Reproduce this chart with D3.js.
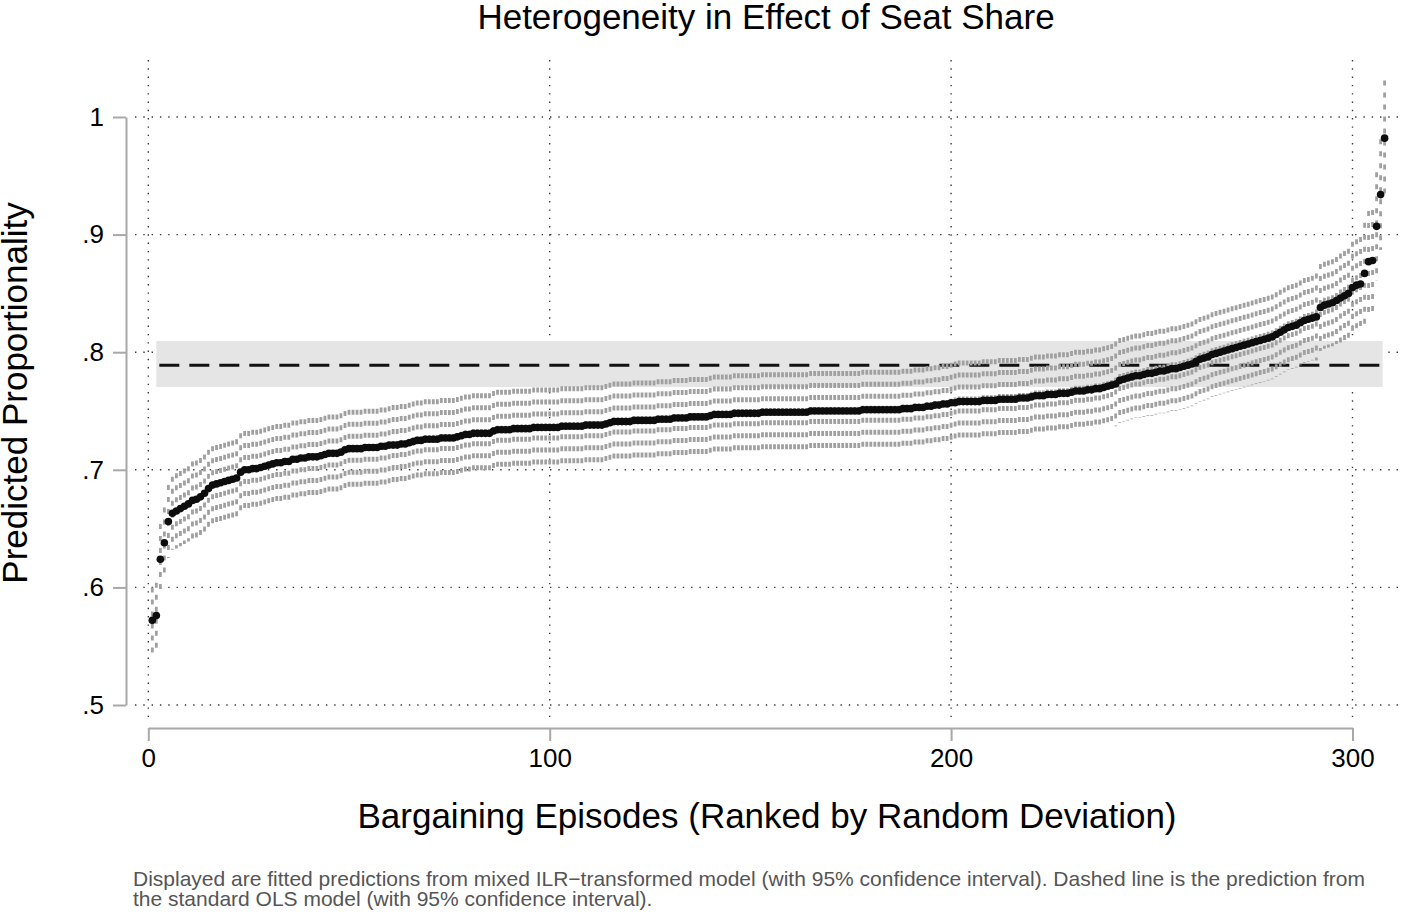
<!DOCTYPE html>
<html><head><meta charset="utf-8">
<script src="https://cdn.jsdelivr.net/npm/d3@7"></script>
<style>
body{margin:0;background:#fff}
svg{display:block}
text{font-family:"Liberation Sans",Arial,Helvetica,sans-serif}
</style>
</head><body>
<svg id="chart" width="1401" height="914"></svg>
<script>
// ---- data ----
const estimates = [
0.572,0.576,0.624,0.638,0.656,0.663,0.665,0.667,0.669,0.671,
0.674,0.675,0.677,0.680,0.684,0.687,0.688,0.689,0.690,0.691,
0.692,0.693,0.698,0.700,0.700,0.701,0.701,0.702,0.703,0.704,
0.705,0.706,0.706,0.707,0.707,0.709,0.709,0.710,0.710,0.711,
0.711,0.711,0.712,0.713,0.714,0.714,0.714,0.715,0.717,0.718,
0.718,0.718,0.718,0.719,0.719,0.719,0.719,0.720,0.720,0.721,
0.721,0.721,0.722,0.722,0.723,0.724,0.725,0.725,0.726,0.726,
0.726,0.726,0.727,0.727,0.727,0.727,0.728,0.729,0.730,0.730,
0.731,0.731,0.731,0.731,0.731,0.733,0.734,0.734,0.734,0.734,
0.735,0.735,0.735,0.735,0.735,0.736,0.736,0.736,0.736,0.736,
0.736,0.736,0.737,0.737,0.737,0.737,0.737,0.737,0.738,0.738,
0.738,0.738,0.738,0.739,0.740,0.741,0.741,0.741,0.741,0.741,
0.742,0.742,0.742,0.742,0.742,0.742,0.743,0.743,0.743,0.743,
0.744,0.744,0.744,0.744,0.745,0.745,0.745,0.745,0.745,0.746,
0.747,0.747,0.747,0.747,0.747,0.748,0.748,0.748,0.748,0.748,
0.748,0.748,0.749,0.749,0.749,0.749,0.749,0.749,0.749,0.749,
0.749,0.749,0.749,0.749,0.750,0.750,0.750,0.750,0.750,0.750,
0.750,0.750,0.750,0.750,0.750,0.750,0.750,0.751,0.751,0.751,
0.751,0.751,0.751,0.751,0.751,0.751,0.751,0.752,0.752,0.752,
0.753,0.753,0.753,0.754,0.754,0.755,0.755,0.756,0.756,0.757,
0.757,0.758,0.758,0.758,0.758,0.758,0.758,0.759,0.759,0.759,
0.759,0.760,0.760,0.760,0.760,0.760,0.761,0.761,0.761,0.762,
0.763,0.763,0.763,0.764,0.764,0.764,0.765,0.765,0.765,0.766,
0.767,0.767,0.767,0.768,0.768,0.769,0.769,0.770,0.771,0.772,
0.773,0.776,0.777,0.778,0.779,0.780,0.780,0.781,0.782,0.782,
0.783,0.784,0.784,0.785,0.786,0.786,0.787,0.788,0.789,0.790,
0.792,0.794,0.795,0.796,0.798,0.799,0.800,0.801,0.802,0.803,
0.804,0.805,0.806,0.807,0.808,0.809,0.810,0.811,0.812,0.813,
0.815,0.817,0.819,0.821,0.822,0.823,0.825,0.827,0.828,0.829,
0.830,0.838,0.840,0.841,0.842,0.844,0.846,0.848,0.850,0.855,
0.857,0.858,0.867,0.877,0.878,0.907,0.934,0.982
];
// half-width of each 95% confidence interval
const halfWidths = [
0.028,0.028,0.030,0.030,0.031,0.031,0.032,0.032,0.032,0.032,
0.033,0.033,0.033,0.033,0.033,0.033,0.033,0.033,0.033,0.033,
0.033,0.033,0.033,0.033,0.033,0.033,0.033,0.033,0.033,0.033,
0.033,0.033,0.033,0.033,0.033,0.033,0.033,0.033,0.033,0.033,
0.033,0.033,0.033,0.033,0.033,0.033,0.033,0.033,0.033,0.033,
0.033,0.033,0.033,0.033,0.033,0.033,0.033,0.033,0.033,0.033,
0.034,0.034,0.034,0.034,0.034,0.034,0.034,0.034,0.034,0.034,
0.034,0.034,0.034,0.034,0.034,0.034,0.034,0.034,0.034,0.034,
0.034,0.034,0.034,0.034,0.034,0.034,0.034,0.034,0.034,0.034,
0.034,0.034,0.034,0.034,0.034,0.034,0.034,0.034,0.034,0.034,
0.034,0.034,0.034,0.034,0.034,0.034,0.034,0.034,0.034,0.034,
0.034,0.034,0.034,0.034,0.034,0.034,0.034,0.034,0.034,0.034,
0.034,0.034,0.034,0.034,0.034,0.034,0.034,0.034,0.034,0.034,
0.034,0.034,0.034,0.034,0.034,0.034,0.034,0.034,0.034,0.034,
0.034,0.034,0.034,0.034,0.034,0.034,0.034,0.034,0.034,0.034,
0.034,0.034,0.034,0.034,0.034,0.034,0.034,0.034,0.034,0.034,
0.034,0.034,0.034,0.034,0.034,0.034,0.034,0.034,0.034,0.034,
0.034,0.034,0.034,0.034,0.034,0.034,0.034,0.034,0.034,0.034,
0.034,0.034,0.034,0.034,0.034,0.034,0.034,0.034,0.034,0.034,
0.034,0.034,0.034,0.034,0.034,0.034,0.034,0.034,0.034,0.034,
0.035,0.035,0.035,0.035,0.035,0.035,0.035,0.035,0.035,0.035,
0.035,0.035,0.035,0.035,0.035,0.035,0.035,0.035,0.035,0.035,
0.035,0.035,0.035,0.035,0.035,0.035,0.035,0.035,0.035,0.035,
0.035,0.035,0.035,0.035,0.035,0.035,0.035,0.035,0.035,0.035,
0.036,0.036,0.036,0.036,0.036,0.036,0.036,0.036,0.036,0.036,
0.036,0.036,0.036,0.036,0.036,0.036,0.036,0.036,0.036,0.036,
0.036,0.036,0.036,0.036,0.036,0.036,0.036,0.036,0.036,0.036,
0.036,0.036,0.036,0.036,0.036,0.036,0.036,0.036,0.036,0.036,
0.036,0.036,0.036,0.036,0.036,0.036,0.036,0.036,0.036,0.036,
0.037,0.037,0.037,0.037,0.037,0.037,0.038,0.038,0.038,0.039,
0.039,0.040,0.043,0.043,0.043,0.046,0.047,0.049
];
const olsEstimate = 0.789;
const olsLower = 0.7704;
const olsUpper = 0.8095;
const olsRankSpan = [2, 307.5];

const xTicks = [0, 100, 200, 300];
const xTickLabels = ["0", "100", "200", "300"];
const yTicks = [0.5, 0.6, 0.7, 0.8, 0.9, 1.0];
const yTickLabels = [".5", ".6", ".7", ".8", ".9", "1"];

const titleText = "Heterogeneity in Effect of Seat Share";
const xTitleText = "Bargaining Episodes (Ranked by Random Deviation)";
const yTitleText = "Predicted Proportionality";
const noteLines = [
  "Displayed are fitted predictions from mixed ILR\u2212transformed model (with 95% confidence interval). Dashed line is the prediction from",
  "the standard OLS model (with 95% confidence interval)."
];

// ---- drawing ----
const svg = d3.select("#chart");
const x = d3.scaleLinear().domain([0, 300]).range([148.3, 1352.5]);
const y = d3.scaleLinear().domain([0.5, 1.0]).range([705, 117]);

const points = estimates.map((v, i) => ({rank: i + 1, est: v, lo: v - halfWidths[i], hi: v + halfWidths[i]}));

// gridlines
const grid = svg.append("g");
grid.selectAll("line.h").data(yTicks).join("line")
  .attr("x1", 135).attr("x2", 1400)
  .attr("y1", d => y(d)).attr("y2", d => y(d))
  .attr("stroke", "#3a3a3a").attr("stroke-width", 1.4).attr("stroke-dasharray", "1.4,6.9");
grid.selectAll("line.v").data(xTicks).join("line")
  .attr("y1", 60).attr("y2", 720)
  .attr("x1", d => x(d)).attr("x2", d => x(d))
  .attr("stroke", "#3a3a3a").attr("stroke-width", 1.4).attr("stroke-dasharray", "1.4,6.9");

// OLS band + dashed line
svg.append("rect")
  .attr("x", x(olsRankSpan[0])).attr("width", x(olsRankSpan[1]) - x(olsRankSpan[0]))
  .attr("y", y(olsUpper)).attr("height", y(olsLower) - y(olsUpper))
  .attr("fill", "#e5e5e5");
svg.append("line")
  .attr("x1", x(olsRankSpan[0]) + 3).attr("x2", x(308))
  .attr("y1", y(olsEstimate)).attr("y2", y(olsEstimate))
  .attr("stroke", "#111").attr("stroke-width", 3).attr("stroke-dasharray", "20,10");

// CI spikes (dashed vertical)
svg.append("g").selectAll("line").data(points).join("line")
  .attr("x1", d => x(d.rank)).attr("x2", d => x(d.rank))
  .attr("y1", d => y(d.hi)).attr("y2", d => y(d.lo))
  .attr("stroke", "#a0a0a0").attr("stroke-width", 2.8).attr("stroke-dasharray", "5,7");

// points
svg.append("g").selectAll("circle").data(points).join("circle")
  .attr("cx", d => x(d.rank)).attr("cy", d => y(d.est)).attr("r", 3.8)
  .attr("fill", "#0d0d0d");

// axes
const yAxis = d3.axisLeft(y).tickValues(yTicks).tickFormat((d, i) => yTickLabels[i])
  .tickSize(13).tickSizeOuter(0).tickPadding(9);
const gy = svg.append("g").attr("transform", "translate(126,0)").call(yAxis);
const xAxis = d3.axisBottom(x).tickValues(xTicks).tickFormat((d, i) => xTickLabels[i])
  .tickSize(13).tickSizeOuter(0).tickPadding(8);
const gx = svg.append("g").attr("transform", "translate(0,728)").call(xAxis);
[gx, gy].forEach(g => {
  g.select(".domain").attr("stroke", "#a8a8a8").attr("stroke-width", 2);
  g.selectAll(".tick line").attr("stroke", "#a8a8a8").attr("stroke-width", 2);
  g.selectAll(".tick text").attr("fill", "#000").style("font-size", "26px")
    .style("font-family", '"Liberation Sans",Arial,Helvetica,sans-serif');
});

// titles
svg.append("text").attr("x", 766).attr("y", 29).attr("text-anchor", "middle")
  .style("font-size", "35px").attr("fill", "#000").text(titleText);
svg.append("text").attr("x", 767).attr("y", 828).attr("text-anchor", "middle")
  .style("font-size", "35px").attr("fill", "#000").text(xTitleText);
svg.append("text").attr("transform", "translate(27,393) rotate(-90)").attr("text-anchor", "middle")
  .style("font-size", "35px").attr("fill", "#000").text(yTitleText);
svg.append("g").selectAll("text").data(noteLines).join("text")
  .attr("x", 133).attr("y", (d, i) => 886 + i * 20)
  .style("font-size", "21px").attr("fill", "#555").text(d => d);
</script>
</body></html>
